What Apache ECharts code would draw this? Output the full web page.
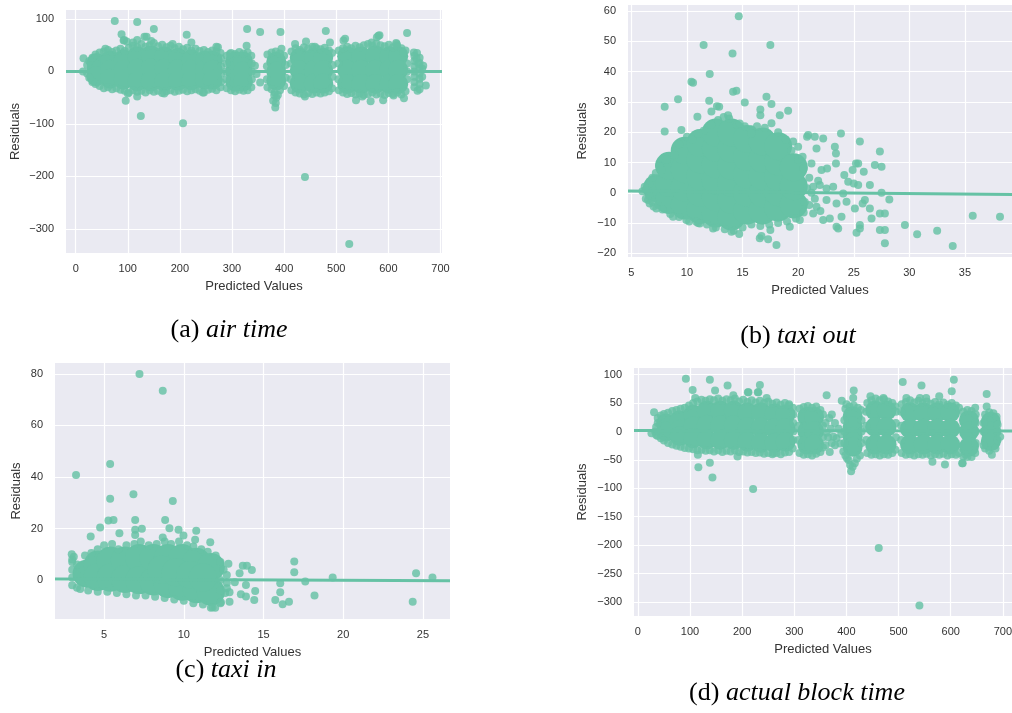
<!DOCTYPE html>
<html><head><meta charset="utf-8">
<script src="https://cdn.jsdelivr.net/npm/echarts@6/dist/echarts.min.js"></script>
<style>html,body{margin:0;padding:0;background:#fff}#c{width:1012px;height:713px}</style>
</head><body><div id="c"></div>
<script>
// ---------- Panel (a) air time ----------
const aXTicks = [0,100,200,300,400,500,600,700];
const aYTicks = [-300,-200,-100,0,100];
const aCore = [[40,16],[40,3],[40,-9],[66,21],[66,3],[66,-14],[92,23],[92,3],[92,-16],[118,29],[118,5],[118,-19],[144,31],[144,6],[144,-19],[170,29],[170,5],[170,-19],[196,26],[196,4],[196,-18],[222,23],[222,3],[222,-17],[248,21],[248,3],[248,-16],[263,21],[263,3],[263,-16],
[306,19],[306,0],[306,-19],[321,19],[321,0],[321,-19],[385,19],[385,0],[385,-17],
[430,26],[430,2],[430,-23],[457,26],[457,2],[457,-23],[475,26],[475,2],[475,-23],
[521,29],[521,3],[521,-24],[548,29],[548,3],[548,-24],[575,31],[575,3],[575,-24],[602,29],[602,3],[602,-24],[619,29],[619,3],[619,-24]];
const aPts = [[22,12],[26,20],[32,26],[38,32],[46,36],[54,38],[62,41],[70,37],[78,40],[86,43],[94,39],[102,45],[110,49],[118,46],[126,52],[134,47],[142,50],[150,54],[158,48],[166,51],[174,46],[182,49],[190,44],[198,47],[206,42],[214,45],[222,40],[230,43],[238,39],[246,41],[254,37],[262,40],[270,38],[278,35],
[57,43],[93,60],[98,57],[118,60],[132,66],[145,58],[186,52],[222,55],[273,46],[110,55],
[22,-4],[26,-12],[32,-20],[38,-24],[46,-28],[54,-32],[62,-30],[70,-34],[78,-32],[86,-35],[94,-37],[102,-40],[110,-36],[118,-39],[126,-37],[134,-40],[142,-36],[150,-39],[158,-37],[166,-41],[174,-38],[182,-36],[190,-39],[198,-37],[206,-35],[214,-38],[222,-36],[230,-34],[238,-37],[246,-40],[254,-35],[262,-33],[270,-36],[278,-30],
[100,-42],[170,-42],[244,-40],[279,-20],[279,-5],[279,10],[279,25],
[290,30],[298,35],[306,33],[314,37],[322,34],[330,36],[337,30],[328,49],[296,33],[290,-32],[298,-36],[306,-38],[314,-35],[322,-37],[330,-36],[337,-30],[289,-15],[289,0],[289,15],[338,-15],[338,0],[338,15],
[344,11],[354,-21],[347,-5],
[368,32],[376,36],[384,38],[392,34],[400,30],[395,43],[368,-30],[376,-34],[392,-36],[400,-28],[382,-40],[385,-50],[384,-60],[383,-69],[388,-45],[379,-56],[381,-45],[367,-15],[367,10],[403,-12],[403,12],
[414,38],[422,44],[430,41],[438,46],[446,43],[454,47],[462,44],[470,42],[478,45],[486,40],[492,35],[421,52],[442,57],[459,47],[488,55],
[414,-36],[422,-40],[430,-42],[438,-44],[446,-41],[454,-43],[462,-40],[470,-42],[478,-40],[486,-38],[492,-32],[440,-48],[413,-15],[413,15],[493,-10],[493,12],
[505,40],[513,44],[521,47],[529,44],[537,49],[545,46],[553,50],[561,52],[569,49],[577,53],[585,50],[593,48],[601,51],[609,46],[617,49],[625,44],[633,40],[514,59],[517,62],[568,55],[578,65],[581,68],[615,54],[629,36],
[505,-36],[513,-40],[521,-43],[529,-41],[537,-44],[545,-42],[553,-45],[561,-43],[569,-40],[577,-44],[585,-42],[593,-45],[601,-41],[609,-43],[617,-40],[625,-44],[633,-38],[538,-55],[550,-48],[566,-57],[590,-55],[610,-46],[630,-51],[504,-15],[504,15],[636,-15],[636,0],[636,15],
[650,-30],[650,-20],[650,-10],[650,0],[650,10],[650,20],[650,30],[660,-34],[660,-24],[660,-14],[660,-4],[660,6],[660,16],[660,26],[655,35],[656,-37],[665,-10],[665,5],[654,24],[658,14],[649,36],
[75,96],[118,94],[150,81],[213,70],[88,71],[92,59],[136,66],[329,81],[354,75],[393,75],[480,77],[636,73],[583,69],[15,25],[14,0],[96,-56],[118,-48],[125,-85],[206,-99],[440,-201],[525,-329],[672,-27],[667,11],[616,52],[270,47]];
const aLine = [[-18.6,0],[703,0]];

// ---------- Panel (b) taxi out ----------
const bXTicks = [5,10,15,20,25,30,35];
const bYTicks = [-20,-10,0,10,20,30,40,50,60];
const bCore = [[7.3,1.5],[8.4,-2.4],[8.4,3.2],[8.4,8.9],[9.8,-4.2],[9.8,1.8],[9.8,7.8],[9.8,13.9],
[11.2,-5.7],[11.2,0],[11.2,5.5],[11.2,11],[11.2,16.4],[12.6,-6.9],[12.6,-1.5],[12.6,4],[12.6,9.4],[12.6,14.8],[12.6,19.9],
[14.0,-7.9],[14.0,-2.3],[14.0,3.3],[14.0,8.9],[14.0,14.5],[14.0,19.9],[15.4,-5.9],[15.4,0],[15.4,5.9],[15.4,11.8],[15.4,17.8],
[16.8,-5.9],[16.8,-0.2],[16.8,5.5],[16.8,11.2],[16.8,16.9],[18.2,-4.9],[18.2,0.2],[18.2,5.3],[18.2,10.3],[18.2,15.4],
[19.6,-3.9],[19.6,2.2],[19.6,8.4]];
const bPts = [[6.3,1],[6.6,3],[6.6,-1],[6.9,5],[6.9,-3],[7.2,6.5],[7.4,-4],
[7.5,9],[8.2,11],[8.9,12.5],[9.3,16],[10.0,18.5],[10.5,17.5],[11.5,20.5],[12.2,22.5],[12.8,24],[13.3,25],[13.8,24.5],[14.5,22.5],[15.2,22],[15.8,21],[16.3,22],[17.0,21.5],[17.6,23],[18.2,20],[18.9,17.5],[19.4,14],[20,11],[20.5,8],[21,5],
[6.3,-2],[7,-4.5],[7.8,-5.5],[8.5,-7],[9.3,-8],[10.2,-9.5],[11,-10],[11.8,-10.5],[12.6,-11.5],[13.4,-12],[14.2,-12.5],[15,-11.5],[15.8,-10.5],[16.6,-11],[17.4,-10.5],[18.2,-10],[19,-9.5],[19.8,-8.5],[20.5,-6.5],[21,-4],
[21.2,0],[21.5,-2],[21.8,4],[22.0,-6],[20.8,1.5],[20.6,-3],[6.0,0.5],[6.2,2],[6.5,-2.4],[6.65,-3.5],[7.25,-5.15],[7.55,8.6],[7.7,7.5],
[14.66,58.3],[11.5,48.8],[17.5,48.8],[14.1,46],[12.05,39.2],[10.4,36.7],[10.55,36.3],[9.2,30.9],[8.0,28.4],[12,30.4],[12.7,28.6],[12.9,28.4],[14.15,33.4],[14.45,33.7],[15.2,29.8],[17.15,31.7],[17.6,29.3],[16.6,27.5],[16.6,25.6],[18.35,25.6],[19.1,27.1],[8.0,20.2],[10.94,25.1],[9.5,20.7],[11,19.6],[12.2,26.8],[13.7,25.6],[14.75,22.9],[15.8,19.6],[19.55,16.9],[20,15.2],[20.8,18.5],[20.9,19.1],[21.5,18.5],[22.25,17.9],[23.85,19.6],[21.65,14.6],[23.3,15.2],[23.4,13],[25.55,16.9],[21.2,9.7],[20.4,11.9],[22.1,7.5],[22.6,8.05],[23.4,9.7],[24.15,5.85],[24.9,7.5],[25.2,9.7],[25.4,9.7],[25.9,6.95],[26.9,9.2],[27.5,8.6],[27.35,13.6],[26.45,2.55],[27.5,0],[28.2,-2.2],[24.5,3.65],[25,3.1],[25.4,2.55],[26,-2.4],[25.8,-3.5],[25.1,-5.15],[26.45,-5.15],[27.35,-6.8],[27.8,-6.8],[26.6,-8.45],[25.55,-10.65],[25.55,-11.75],[25.25,-13.2],[27.35,-12.3],[27.8,-12.3],[27.8,-16.7],[29.6,-10.65],[30.7,-13.7],[32.5,-12.5],[33.9,-17.6],[35.7,-7.6],[38.15,-7.9],[22.25,-9],[22.85,-8.5],[23.45,-11.2],[23.6,-11.75],[23.9,-7.9],[21.65,-4.6],[21.35,2],[21.95,2.55],[22.55,1.45],[23.15,2],[24.05,-0.2],[22.55,-2.4],[23.45,-3.5],[24.35,-2.95],[21.35,-6.8],[18.05,-17.25],[16.55,-15],[16.7,-14.3],[17.3,-15.3],[14.7,-13.6],[14,-12.85],[17.5,-12.3],[10.85,-9.55],[11.15,-10.1],[8.75,-7.9],[9.95,-9],[12.35,-11.75],[19.25,-11.2],[20.15,-9]];
const bLine = [[4.7,0.6],[39.23,-0.6]];

// ---------- Panel (c) taxi in ----------
const cXTicks = [5,10,15,20,25];
const cYTicks = [0,20,40,60,80];
const cCore = [[3.9,2.5],[4.6,6],[4.6,1.2],[5.4,7.6],[5.4,0.9],[6.3,7.6],[6.3,0.4],[7.2,8.6],[7.2,-0.1],[8.1,8.6],[8.1,-0.6],[9.0,8.6],[9.0,-1.6],[9.9,8.6],[9.9,-2.6],[10.8,7.1],[10.8,-3.6],[11.7,5.1],[11.7,-4.6],[8.6,4],[9.5,3],[10.4,2],[11.2,1]];
const cPts = [[3.0,-2],[3.0,1],[3.0,4],[3.0,7],[3.1,9],[3.3,-3],[3.3,2],[3.3,6],
[3.0,8],[3.8,9.5],[4.2,10.5],[4.6,12],[5.0,13.5],[5.5,14],[5.9,12],[6.4,13.5],[6.9,14],[7.3,15],[7.8,13.5],[8.3,14],[8.8,15],[9.2,14],[9.7,15],[10.2,13.5],[10.6,13],[11.1,12],[11.5,11],[12.0,9.5],[12.3,7],[12.5,4],
[3.5,-3.5],[4.0,-4],[4.6,-4.5],[5.2,-4.5],[5.8,-5],[6.4,-5.5],[7.0,-6],[7.6,-6],[8.2,-6.5],[8.8,-7],[9.4,-7.5],[10.0,-8],[10.6,-9],[11.2,-9.5],[11.8,-10.5],[12.3,-9],[12.6,-5],[12.7,-1],[12.7,2],[12.3,0],[12.3,-4],
[7.22,79.9],[8.68,73.4],[3.24,40.8],[5.38,45],[5.38,31.5],[6.84,33.3],[9.31,30.7],[5.27,23.1],[5.59,23.3],[6.95,23.3],[8.83,23.3],[4.16,16.9],[4.75,20.4],[5.96,18.2],[6.95,19.5],[6.95,17.5],[7.37,19.9],[9.1,20.1],[9.67,19.5],[9.98,17.3],[10.78,19.1],[10.71,15.6],[11.66,14.7],[8.68,16.5],[2.97,10],
[12.8,6.3],[13.5,2.6],[13.7,5.6],[13.96,5.6],[14.27,3.9],[13.2,-0.85],[13.9,-1.9],[13.58,-5.5],[13.9,-6.4],[14.48,-4.2],[14.42,-7.7],[15.74,-7.7],[16.05,-1.2],[16.05,-4.7],[16.2,-9.4],[16.6,-8.4],[16.93,7.2],[16.93,3],[17.62,-0.6],[18.2,-6],[19.34,1],[24.57,2.6],[24.36,-8.4],[25.6,1],[12.87,-8.4],[11.97,-10.7],[11.7,-10.7],[12.33,-8.6],[12.7,-3.2],[12.87,-4.7]];
const cLine = [[1.92,0.4],[26.7,-0.3]];

// ---------- Panel (d) actual block time ----------
const dXTicks = [0,100,200,300,400,500,600,700];
const dYTicks = [-300,-250,-200,-150,-100,-50,0,50,100];
const dCore = [[54,14],[54,0],[80,20],[80,3],[80,-8],[106,30],[106,9],[106,-12],[132,37],[132,12],[132,-14],[158,37],[158,11],[158,-15],[184,37],[184,11],[184,-15],[210,34],[210,8],[210,-18],[236,34],[236,7],[236,-20],[262,32],[262,6],[262,-20],[283,30],[283,6],[283,-18],
[325,26],[325,1],[325,-23],[338,26],[338,1],[338,-23],[412,27],[412,9],[412,-9],[412,-27],
[455,37],[455,8],[455,-23],[477,37],[477,8],[477,-23],
[522,34],[522,5],[522,-23],[548,34],[548,5],[548,-23],[574,34],[574,5],[574,-23],[599,34],[599,5],[599,-23],
[635,20],[635,0],[635,-27],[677,17],[677,0],[677,-17]];
const dPts = [[33,0],[35,8],[35,-6],[38,15],
[38,24],[44,28],[50,31],[58,33],[66,36],[74,38],[82,40],[90,42],[98,46],[106,50],[114,53],[122,56],[130,54],[138,57],[146,55],[154,58],[162,54],[170,57],[178,55],[186,58],[194,53],[202,56],[210,52],[218,55],[226,51],[234,54],[242,50],[250,53],[258,49],[266,51],[274,47],[282,50],[290,46],[297,42],
[110,59],[183,64],[211,69],[230,69],[247,59],
[38,-8],[44,-12],[50,-16],[58,-20],[66,-23],[74,-25],[82,-27],[90,-29],[98,-30],[106,-31],[114,-33],[122,-32],[130,-34],[138,-33],[146,-35],[154,-33],[162,-36],[170,-34],[178,-35],[186,-33],[194,-36],[202,-35],[210,-37],[218,-36],[226,-38],[234,-37],[242,-39],[250,-38],[258,-40],[266,-38],[274,-40],[282,-37],[290,-36],[297,-30],
[115,-41],[191,-44],[260,-38],[298,-15],[298,0],[298,15],[298,30],
[310,40],[318,43],[326,45],[334,42],[342,44],[350,38],[355,30],[310,-38],[318,-41],[326,-40],[334,-42],[342,-39],[350,-36],[355,-28],[308,-15],[308,10],[355,-10],[355,10],
[362,64],[367,24],[360,-24],[368,-36],[375,-9],[378,-24],[381,-12],[388,-21],[391,54],[394,-35],[370,5],[365,-10],[385,5],[360,15],[372,30],[362,-2],[378,15],[390,-5],[372,-20],
[398,40],[406,44],[414,46],[422,42],[428,38],[414,72],[413,59],[400,48],[398,-42],[404,-50],[407,-59],[409,-70],[412,-62],[416,-56],[420,-48],[426,-42],[401,-47],[396,-20],[396,0],[396,20],[429,-20],[429,0],[429,20],
[440,50],[448,55],[456,58],[464,55],[472,57],[480,53],[488,50],[494,44],[446,62],[471,59],[440,-38],[448,-41],[456,-40],[464,-42],[472,-40],[480,-41],[488,-38],[494,-32],[438,-15],[438,10],[438,35],[495,-10],[495,15],[495,35],
[506,48],[514,52],[522,55],[530,51],[538,54],[546,50],[554,53],[562,49],[570,52],[578,48],[586,51],[594,47],[602,50],[610,46],[616,42],[508,87],[515,59],[544,81],[541,59],[553,59],[578,62],[602,71],[606,91],
[506,-38],[514,-41],[522,-40],[530,-42],[538,-40],[546,-41],[554,-39],[562,-42],[570,-40],[578,-41],[586,-39],[594,-42],[602,-40],[610,-41],[616,-38],[565,-53],[589,-58],[505,-15],[505,10],[505,35],
[624,35],[632,38],[640,36],[647,42],[648,30],[624,-44],[629,-41],[623,-56],[632,-45],[640,-45],[647,-38],[648,-20],[648,0],[648,15],
[666,30],[674,34],[682,32],[688,26],[669,44],[669,66],[666,-30],[674,-34],[679,-41],[686,-30],[663,-24],[663,0],[663,15],[690,-15],[690,0],[690,12],[695,-9],
[92,93],[138,91],[172,81],[234,82],[105,73],[148,72],[212,69],[231,69],[290,48],[31,34],[26,-3],[116,-63],[138,-55],[143,-81],[221,-101],[462,-205],[540,-306],[622,-56]];
const dLine = [[-7.5,2],[717.6,1]];

// ---------- captions / axis titles ----------
const capLetters = ['(a)','(b)','(c)','(d)'];
const capNames = ['air time','taxi out','taxi in','actual block time'];
const xName = 'Predicted Values';
const yName = 'Residuals';

// ---------- layout ----------
const PT = '#66c2a5';
const FONT = 'Liberation Sans';
const panels = [
  {grid:{left:66,top:10,width:376,height:243}, x:[-18.6,703], y:[-346,117], xt:aXTicks, yt:aYTicks, core:aCore, pts:aPts, line:aLine, yGap:44, cap:[229,317]},
  {grid:{left:628,top:5,width:384,height:252}, x:[4.7,39.23], y:[-21.2,62], xt:bXTicks, yt:bYTicks, core:bCore, pts:bPts, line:bLine, yGap:39, cap:[798,323]},
  {grid:{left:55,top:363,width:395,height:256}, x:[1.92,26.7], y:[-15.1,84.2], xt:cXTicks, yt:cYTicks, core:cCore, pts:cPts, line:cLine, yGap:32, cap:[226,657]},
  {grid:{left:634,top:368,width:378,height:248}, x:[-7.5,717.6], y:[-324.7,111.8], xt:dXTicks, yt:dYTicks, core:dCore, pts:dPts, line:dLine, yGap:45, cap:[797,680]}
];
const coreSizes = [20, 28, 28, 20];
const fmt = v => String(v).replace('-', '\u2212');
const grids=[], xAxes=[], yAxes=[], series=[], titles=[];
panels.forEach((p,i)=>{
  grids.push(Object.assign({show:true, backgroundColor:'#eaeaf2', borderWidth:0, containLabel:false, outerBoundsMode:'none'}, p.grid));
  const lab = {fontSize:11, color:'#333', fontFamily:FONT, formatter:fmt};
  xAxes.push({type:'value', gridIndex:i, min:p.x[0], max:p.x[1], axisLine:{show:false},
    axisTick:{show:false, customValues:p.xt}, axisLabel:Object.assign({customValues:p.xt, margin:10}, lab),
    splitLine:{show:true, lineStyle:{color:'#ffffff', width:1.2}},
    name:xName, nameLocation:'middle', nameGap:27, nameTextStyle:{fontSize:13, color:'#333', fontFamily:FONT}});
  yAxes.push({type:'value', gridIndex:i, min:p.y[0], max:p.y[1], axisLine:{show:false},
    axisTick:{show:false, customValues:p.yt}, axisLabel:Object.assign({customValues:p.yt, margin:12}, lab),
    splitLine:{show:true, lineStyle:{color:'#ffffff', width:1.2}},
    name:yName, nameLocation:'middle', nameGap:p.yGap, nameTextStyle:{fontSize:13, color:'#333', fontFamily:FONT}});
  series.push({type:'scatter', xAxisIndex:i, yAxisIndex:i, data:p.core, symbolSize:coreSizes[i], itemStyle:{color:PT, opacity:1}, silent:true, z:2});
  series.push({type:'scatter', xAxisIndex:i, yAxisIndex:i, data:p.pts, symbolSize:8, itemStyle:{color:PT, opacity:0.82}, silent:true, z:3});
  series.push({type:'line', xAxisIndex:i, yAxisIndex:i, data:p.line, showSymbol:false, silent:true, lineStyle:{color:PT, width:3}, z:4});
  const st = {fontFamily:'Liberation Serif', fontSize:26, fontWeight:'normal', color:'#000'};
  titles.push({text:'{n|'+capLetters[i]+'} {i|'+capNames[i]+'}', left:p.cap[0], top:p.cap[1], textAlign:'center', padding:0,
    textStyle:{fontWeight:'normal', fontSize:26, fontFamily:'Liberation Serif', rich:{n:st, i:Object.assign({}, st, {fontStyle:'italic'})}}});
});
const chart = echarts.init(document.getElementById('c'));
chart.setOption({animation:false, backgroundColor:'#ffffff', title:titles, grid:grids, xAxis:xAxes, yAxis:yAxes, series:series});
</script></body></html>
